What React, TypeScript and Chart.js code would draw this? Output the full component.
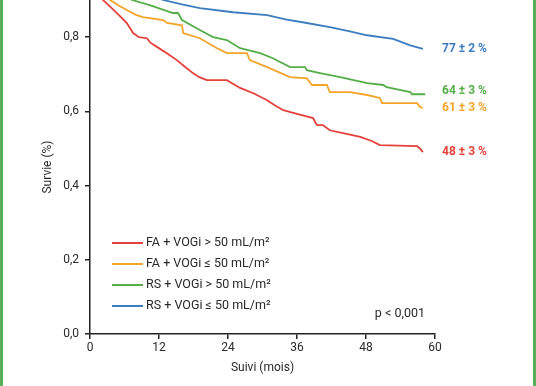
import React, { useEffect, useRef } from "react";
import { Chart, registerables } from "chart.js";

Chart.register(...registerables);

const seriesLabels = [
  "FA + VOGi > 50 mL/m²",
  "FA + VOGi ≤ 50 mL/m²",
  "RS + VOGi > 50 mL/m²",
  "RS + VOGi ≤ 50 mL/m²",
];
const endLabels = ["48 ± 3 %", "61 ± 3 %", "64 ± 3 %", "77 ± 2 %"];
const colors = ["#e5413b", "#f5a42a", "#55ad48", "#3c7cc0"];

const redMonths = [0, 2.26, 3.5, 5, 6.4, 7.5, 8.5, 9.9, 10.5, 11.7, 13.5, 15.1, 16.5, 17.9, 19, 20.3, 23.8, 26.1, 28.5, 30.8, 32, 33.6, 36, 38.8, 39.2, 39.5, 40.5, 41.7, 44, 47, 49, 50.4, 56.9, 57.5, 57.9];
const redValues = [1.0, 0.9, 0.882, 0.86, 0.838, 0.811, 0.8, 0.797, 0.785, 0.773, 0.755, 0.738, 0.72, 0.703, 0.692, 0.684, 0.684, 0.663, 0.648, 0.63, 0.618, 0.603, 0.593, 0.582, 0.57, 0.563, 0.563, 0.549, 0.541, 0.531, 0.52, 0.509, 0.506, 0.498, 0.49];

const orangeMonths = [0, 3.5, 5, 6.4, 8, 9.2, 12.7, 13.4, 16, 16.2, 19.1, 22.1, 23.8, 27.3, 27.8, 30.8, 34.8, 37.7, 38.6, 41.2, 41.7, 45.2, 48.2, 50.4, 50.8, 56.9, 57.3, 57.9];
const orangeValues = [1.0, 0.9, 0.885, 0.873, 0.86, 0.854, 0.846, 0.838, 0.832, 0.811, 0.797, 0.77, 0.757, 0.757, 0.738, 0.719, 0.692, 0.689, 0.671, 0.671, 0.652, 0.652, 0.644, 0.636, 0.622, 0.622, 0.613, 0.609];

const greenMonths = [0, 7.3, 10.4, 14.4, 15.3, 16, 19.1, 21.4, 23.8, 26.1, 29.6, 31.8, 34.8, 37.4, 37.7, 40, 43.5, 48.2, 51, 51.6, 55.7, 56, 58.3];
const greenValues = [1.0, 0.9, 0.886, 0.865, 0.865, 0.846, 0.819, 0.8, 0.792, 0.77, 0.757, 0.743, 0.719, 0.719, 0.711, 0.703, 0.692, 0.676, 0.671, 0.665, 0.652, 0.646, 0.646];

const blueMonths = [0, 12.7, 16, 19.1, 24.9, 30.8, 34, 37.7, 41.7, 45, 48.2, 52.7, 55.7, 57.9];
const blueValues = [1.0, 0.9, 0.888, 0.878, 0.867, 0.859, 0.848, 0.838, 0.827, 0.816, 0.805, 0.795, 0.778, 0.768];

const xTicks = [0, 12, 24, 36, 48, 60];
const yTicks = [0, 0.2, 0.4, 0.6, 0.8];
const pValueText = "p < 0,001";

const allMonths = [redMonths, orangeMonths, greenMonths, blueMonths];
const allValues = [redValues, orangeValues, greenValues, blueValues];

const FONT = "Roboto, 'DejaVu Sans', sans-serif";

const overlayPlugin = {
  id: "overlay",
  afterDatasetsDraw(chart: any) {
    const { ctx, chartArea, scales } = chart;
    ctx.save();
    // legend
    seriesLabels.forEach((lab, i) => {
      const y = chartArea.bottom - 91 + i * 21;
      const x0 = chartArea.left + 22;
      ctx.strokeStyle = colors[i];
      ctx.lineWidth = 2;
      ctx.beginPath();
      ctx.moveTo(x0, y);
      ctx.lineTo(x0 + 31, y);
      ctx.stroke();
      ctx.fillStyle = "#2a2a2a";
      ctx.font = `12.5px ${FONT}`;
      ctx.textAlign = "left";
      ctx.textBaseline = "middle";
      ctx.fillText(lab, x0 + 34, y);
    });
    // end labels
    endLabels.forEach((lab, i) => {
      const v = allValues[i];
      const x = scales.x.getPixelForValue(60) + 7;
      const y = scales.y.getPixelForValue(v[v.length - 1]) + (i === 2 ? -3 : 0);
      ctx.fillStyle = colors[i];
      ctx.font = `bold 12px ${FONT}`;
      ctx.textAlign = "left";
      ctx.textBaseline = "middle";
      ctx.fillText(lab, x, y);
    });
    // p value
    ctx.fillStyle = "#2a2a2a";
    ctx.font = `12.5px ${FONT}`;
    ctx.textAlign = "right";
    ctx.textBaseline = "middle";
    ctx.fillText(pValueText, chartArea.right - 10, chartArea.bottom - 20);
    ctx.restore();
  },
  afterDraw(chart: any) {
    const { ctx, width, height } = chart;
    ctx.save();
    ctx.fillStyle = "#5aae5a";
    ctx.fillRect(0, 0, 3, height);
    ctx.fillRect(width - 3, 0, 3, height);
    ctx.restore();
  },
};

export default function App() {
  const ref = useRef<HTMLCanvasElement | null>(null);
  useEffect(() => {
    if (!ref.current) return;
    const datasets = seriesLabels.map((lab, i) => ({
      label: lab,
      data: allMonths[i].map((m, j) => ({ x: m, y: allValues[i][j] })),
      borderColor: colors[i],
      backgroundColor: colors[i],
      borderWidth: 1.8,
      pointRadius: 0,
      tension: 0,
      fill: false,
    }));
    const chart = new Chart(ref.current, {
      type: "line",
      data: { datasets },
      plugins: [overlayPlugin],
      options: {
        animation: false,
        responsive: false,
        layout: { padding: { left: 0, right: 101, top: 0, bottom: 0 } },
        plugins: { legend: { display: false }, tooltip: { enabled: false } },
        scales: {
          x: {
            type: "linear",
            min: 0,
            max: 60,
            afterBuildTicks: (s: any) => {
              s.ticks = xTicks.map((v) => ({ value: v }));
            },
            afterFit: (s: any) => {
              s.height = 52;
            },
            ticks: { color: "#2a2a2a", font: { size: 12, family: FONT }, padding: 2 },
            grid: { drawOnChartArea: false, drawTicks: true, tickLength: 5, color: "#222", lineWidth: 1.5 },
            border: { color: "#222", width: 1.5 },
            title: { display: true, text: "Suivi (mois)", color: "#2a2a2a", font: { size: 12, family: FONT }, padding: { top: 0, bottom: 11 } },
          },
          y: {
            type: "linear",
            min: 0,
            max: 0.9,
            afterBuildTicks: (s: any) => {
              s.ticks = yTicks.map((v) => ({ value: v }));
            },
            afterFit: (s: any) => {
              s.width = 90;
              s.paddingTop = 0;
              s.paddingBottom = 0;
            },
            ticks: {
              color: "#2a2a2a",
              font: { size: 12, family: FONT },
              padding: 6,
              callback: (v: any) => Number(v).toFixed(1).replace(".", ","),
            },
            grid: { drawOnChartArea: false, drawTicks: true, tickLength: 5, color: "#222", lineWidth: 1.5 },
            border: { color: "#222", width: 1.5 },
            title: { display: true, text: "Survie (%)", color: "#2a2a2a", font: { size: 12, family: FONT }, padding: { top: 41, bottom: 0 } },
          },
        },
      },
    });
    return () => chart.destroy();
  }, []);
  return (
    <div style={{ position: "absolute", left: 0, top: 0, width: 536, height: 386, background: "#fff" }}>
      <canvas ref={ref} width={536} height={386} style={{ display: "block", width: 536, height: 386 }} />
    </div>
  );
}
